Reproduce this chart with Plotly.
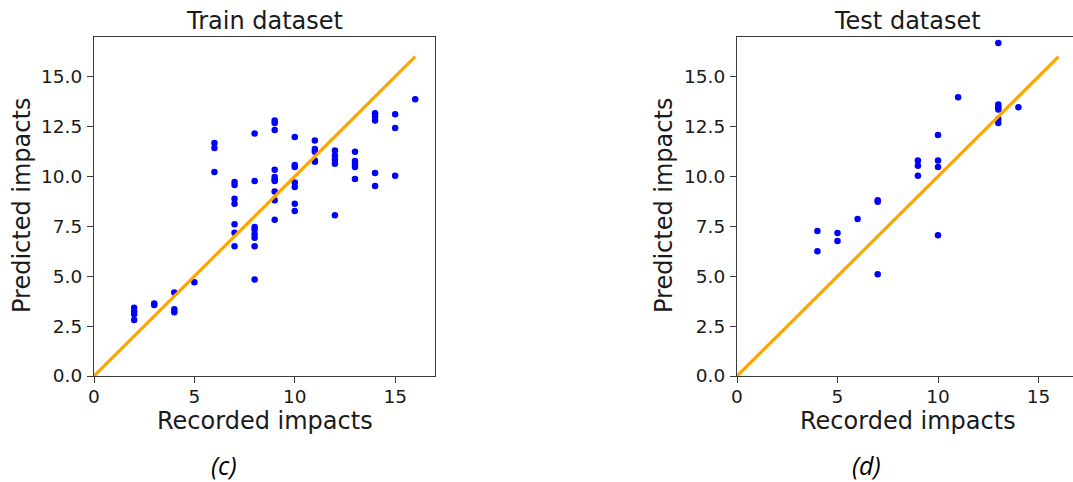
import plotly.graph_objects as go

# Train set: recorded impacts vs model predictions
train_recorded = [2, 2, 2, 2,
                  3, 3,
                  4, 4, 4,
                  5,
                  6, 6, 6,
                  7, 7, 7, 7, 7, 7, 7,
                  8, 8, 8, 8, 8, 8, 8, 8,
                  9, 9, 9, 9, 9, 9, 9, 9, 9, 9,
                  10, 10, 10, 10, 10, 10, 10,
                  11, 11, 11, 11, 11,
                  12, 12, 12, 12, 12,
                  13, 13, 13, 13, 13,
                  14, 14, 14, 14, 14,
                  15, 15, 15,
                  16]
train_predicted = [3.42, 3.25, 3.1, 2.8,
                   3.63, 3.56,
                   4.18, 3.35, 3.2,
                   4.7,
                   11.68, 11.42, 10.22,
                   9.72, 9.57, 8.88, 8.63, 7.6, 7.18, 6.5,
                   12.15, 9.77, 7.47, 7.33, 7.1, 6.93, 6.5, 4.83,
                   12.8, 12.67, 12.33, 10.33, 9.97, 9.85, 9.77, 9.25, 8.8, 7.83,
                   11.97, 10.57, 10.47, 9.7, 9.47, 8.63, 8.27,
                   11.8, 11.37, 11.23, 10.8, 10.73,
                   11.3, 11.05, 10.83, 10.63, 8.05,
                   11.23, 10.77, 10.63, 10.47, 9.87,
                   13.17, 13.0, 12.8, 10.17, 9.52,
                   13.12, 12.42, 10.03,
                   13.87]

# Test set
test_recorded = [4, 4,
                 5, 5,
                 6,
                 7, 7, 7,
                 9, 9, 9,
                 10, 10, 10, 10,
                 11,
                 13, 13, 13, 13, 13, 13,
                 14]
test_predicted = [7.27, 6.25,
                  7.17, 6.77,
                  7.87,
                  8.8, 8.73, 5.1,
                  10.8, 10.53, 10.03,
                  12.07, 10.8, 10.47, 7.05,
                  13.97,
                  16.68, 13.6, 13.47, 13.35, 12.88, 12.67,
                  13.47]

# Identity reference line
ideal_line = [0, 16]

panel_titles = ["Train dataset", "Test dataset"]
panel_captions = ["(c)", "(d)"]
x_label = "Recorded impacts"
y_label = "Predicted impacts"

y_ticks = [0, 2.5, 5, 7.5, 10, 12.5, 15]
y_tick_text = ["0.0", "2.5", "5.0", "7.5", "10.0", "12.5", "15.0"]
x_ticks = [0, 5, 10, 15]

W, H = 1073, 482
TEXT = "#1a1a1a"
FRAME = "#3a3a3a"
FONT = "DejaVu Sans"

fig = go.Figure()

panels = [
    (train_recorded, train_predicted, "x", "y"),
    (test_recorded, test_predicted, "x2", "y2"),
]
for xs, ys, xa, ya in panels:
    fig.add_trace(go.Scatter(
        x=xs, y=ys, mode="markers", xaxis=xa, yaxis=ya,
        marker=dict(color="#0000ff", size=6.5, line=dict(width=0)),
        showlegend=False, hoverinfo="skip",
    ))
    fig.add_trace(go.Scatter(
        x=ideal_line, y=ideal_line, mode="lines", xaxis=xa, yaxis=ya,
        line=dict(color="#ffa500", width=3.2),
        showlegend=False, hoverinfo="skip",
    ))

# Plot areas in pixels
left1, right1 = 94, 435.3
left2 = 737
top, bottom = 36.7, 376
px_per_unit = 20.1
right2 = W  # frame runs off the right edge
x2_max = (right2 - left2) / px_per_unit

axis_common = dict(
    showline=True, linecolor=FRAME, linewidth=1.2,
    ticks="outside", ticklen=6, tickwidth=1.2, tickcolor=FRAME,
    showgrid=False, zeroline=False, automargin=False,
    tickfont=dict(family=FONT, size=18.5, color=TEXT),
)

fig.update_layout(
    width=W, height=H,
    margin=dict(l=0, r=0, t=0, b=0, pad=0),
    paper_bgcolor="white", plot_bgcolor="white",
    xaxis=dict(domain=[left1 / W, right1 / W], range=[0, 17],
               tickvals=x_ticks, mirror=True, anchor="y",
               ticklabelstandoff=-2, **axis_common),
    yaxis=dict(domain=[1 - bottom / H, 1 - top / H], range=[0, 17],
               tickvals=y_ticks, ticktext=y_tick_text, mirror=True,
               anchor="x", ticklabelstandoff=1, **axis_common),
    xaxis2=dict(domain=[left2 / W, 1.0], range=[0, x2_max],
                tickvals=x_ticks, mirror=True, anchor="y2",
                ticklabelstandoff=-2, **axis_common),
    yaxis2=dict(domain=[1 - bottom / H, 1 - top / H], range=[0, 17],
                tickvals=y_ticks, ticktext=y_tick_text, mirror=False,
                anchor="x2", ticklabelstandoff=1, **axis_common),
)

centers = [(left1 + right1) / 2, (left2 + left2 + 17 * px_per_unit) / 2]
ylabel_x = [22, 664]
annotations = []
for i, cx in enumerate(centers):
    annotations.append(dict(
        x=cx / W, y=1 - 21 / H, xref="paper", yref="paper",
        text=panel_titles[i], showarrow=False,
        xanchor="center", yanchor="middle",
        font=dict(family=FONT, size=24, color=TEXT),
    ))
    annotations.append(dict(
        x=cx / W, y=1 - 421 / H, xref="paper", yref="paper",
        text=x_label, showarrow=False,
        xanchor="center", yanchor="middle",
        font=dict(family=FONT, size=24, color=TEXT),
    ))
    annotations.append(dict(
        x=ylabel_x[i] / W, y=1 - 206 / H, xref="paper", yref="paper",
        text=y_label, showarrow=False, textangle=-90,
        xanchor="center", yanchor="middle",
        font=dict(family=FONT, size=24, color=TEXT),
    ))
for cx, cap in zip([224, 866], panel_captions):
    annotations.append(dict(
        x=cx / W, y=1 - 465 / H, xref="paper", yref="paper",
        text="<i>" + cap + "</i>", showarrow=False,
        xanchor="center", yanchor="middle",
        font=dict(family="Open Sans", size=25, color="#000000"),
    ))
fig.update_layout(annotations=annotations)

fig.write_html("out.html")
